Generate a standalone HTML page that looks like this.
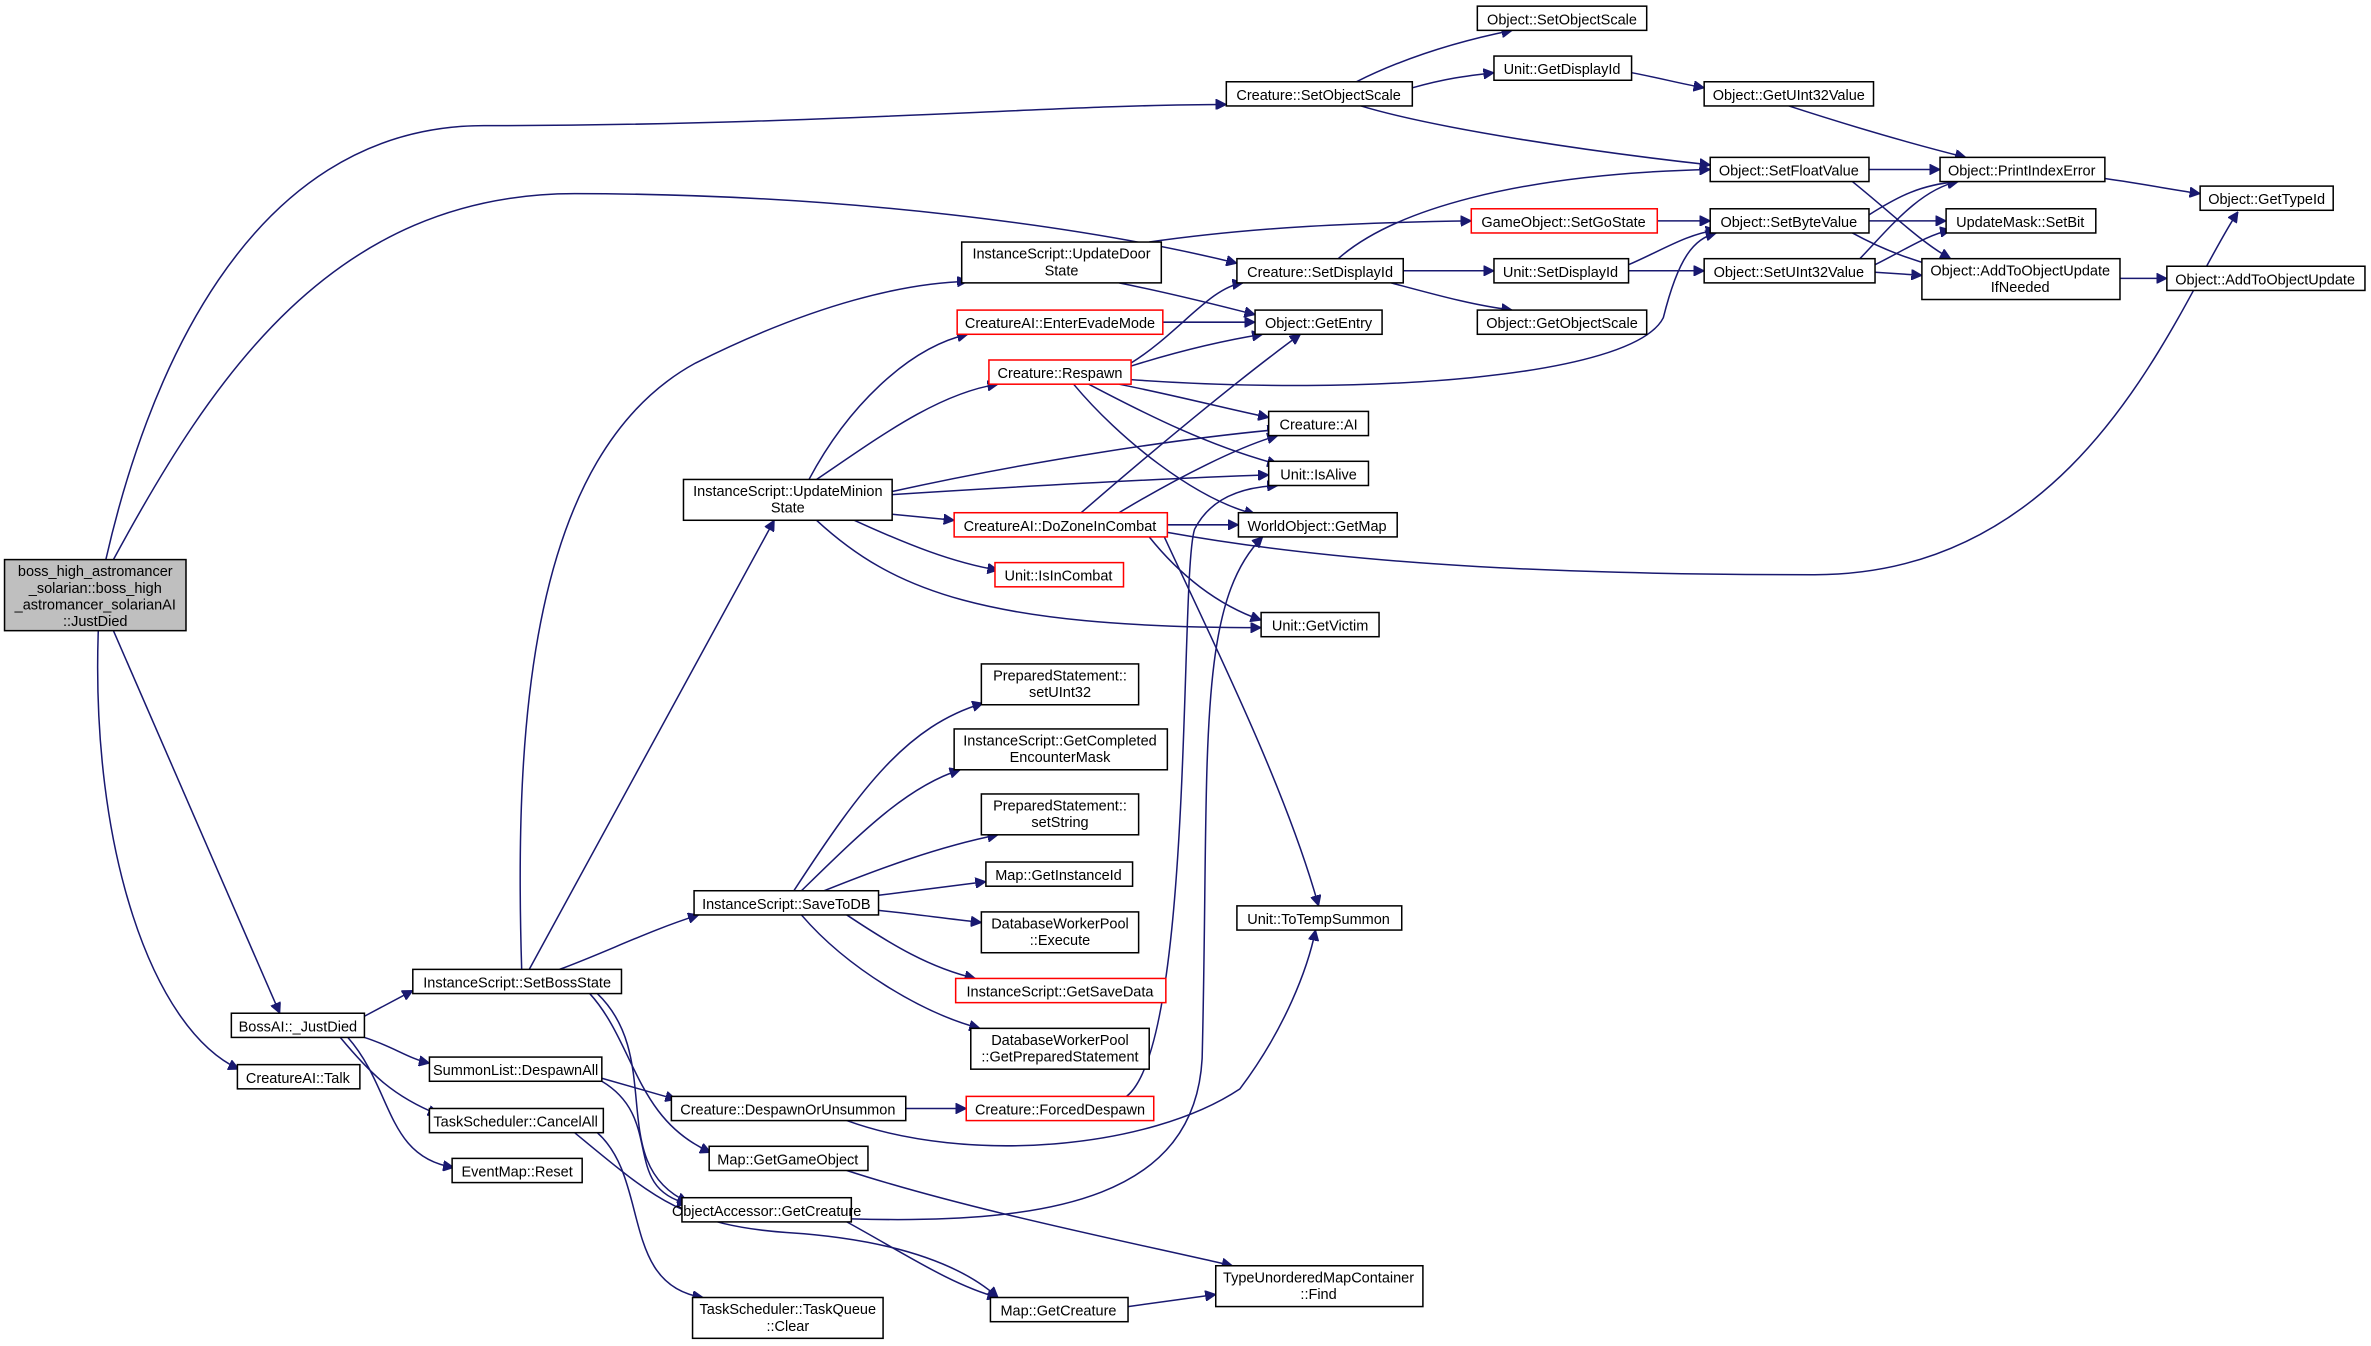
<!DOCTYPE html>
<html><head><meta charset="utf-8"><style>
html,body{margin:0;padding:0;background:#fff;}
svg{display:block;}
text{font-family:"Liberation Sans","DejaVu Sans",sans-serif;font-size:9.6px;fill:#000;text-anchor:middle;}
rect{fill:#fff;stroke:#000;stroke-width:1;}
rect.r{stroke:#ff0000;}
rect.g{fill:#bfbfbf;}
path{fill:none;stroke:#191970;stroke-width:1;marker-end:url(#a);}
</style></head><body>
<svg width="2371" height="1346" viewBox="0 0 1568 890" xmlns="http://www.w3.org/2000/svg">
<defs><marker id="a" viewBox="0 0 10 10" refX="10" refY="5" markerWidth="7" markerHeight="7" orient="auto" markerUnits="userSpaceOnUse"><path d="M0,0 L10,5 L0,10 z" style="fill:#191970;stroke:#191970;marker-end:none"/></marker></defs>

<!-- edges -->
<path d="M70,370 C95,260 160,83 320,83 C540,83 700,69 811,69"/>
<path d="M75,370 C140,250 220,128 380,128 C560,128 720,150 818,174"/>
<path d="M75,417 L185,670"/>
<path d="M65,417 C60,560 100,680 158,707"/>
<path d="M897,54 C925,40 960,28 1000,20"/>
<path d="M934,58 C955,52 970,50 988,48"/>
<path d="M900,70 C950,85 1050,100 1131,109"/>
<path d="M1079,48 C1100,52 1110,55 1127,58"/>
<path d="M1183,70 C1220,82 1260,94 1300,104"/>
<path d="M1236,112 L1283,112"/>
<path d="M1225,120 C1250,140 1270,160 1290,171"/>
<path d="M1392,118 C1420,122 1440,126 1455,128"/>
<path d="M1096,146 L1131,146"/>
<path d="M1236,142 C1255,130 1270,122 1295,120"/>
<path d="M1236,146 L1287,146"/>
<path d="M1225,154 C1245,165 1265,172 1280,176"/>
<path d="M1230,171 C1250,150 1270,125 1295,120"/>
<path d="M1240,175 C1260,165 1275,155 1290,152"/>
<path d="M1240,180 L1271,182"/>
<path d="M1402,184 L1433,184"/>
<path d="M760,160 C830,150 900,147 973,146"/>
<path d="M740,187 C780,195 810,203 830,208"/>
<path d="M885,171 C920,140 1000,115 1131,112"/>
<path d="M928,179 L988,179"/>
<path d="M920,187 C950,195 975,202 1000,205"/>
<path d="M1077,175 C1100,165 1115,155 1135,152"/>
<path d="M1077,179 L1127,179"/>
<path d="M769,213 L830,213"/>
<path d="M748,240 C780,220 800,190 822,187"/>
<path d="M748,242 C780,232 810,225 835,221"/>
<path d="M748,251 C900,262 1080,250 1100,210 C1110,170 1120,158 1135,154"/>
<path d="M740,254 C780,262 810,270 839,276"/>
<path d="M720,254 C760,275 800,295 845,307"/>
<path d="M710,254 C740,290 790,330 830,340"/>
<path d="M535,317 C560,270 600,230 640,221"/>
<path d="M540,317 C580,290 620,260 660,254"/>
<path d="M590,325 C680,305 780,290 845,284"/>
<path d="M590,327 C700,320 780,316 839,314"/>
<path d="M590,340 L631,344"/>
<path d="M565,344 C600,360 630,372 660,377"/>
<path d="M540,344 C590,390 650,415 834,415"/>
<path d="M715,339 C760,300 820,250 860,221"/>
<path d="M740,339 C780,315 820,295 845,288"/>
<path d="M772,347 L819,347"/>
<path d="M760,355 C780,380 805,400 834,410"/>
<path d="M770,355 C800,420 850,520 872,599"/>
<path d="M772,352 C900,375 1050,380 1200,380 C1380,380 1440,200 1480,140"/>
<path d="M525,589 C570,520 600,480 650,465"/>
<path d="M530,589 C570,550 600,520 635,509"/>
<path d="M545,589 C580,575 620,560 660,552"/>
<path d="M581,592 L652,583"/>
<path d="M581,602 C610,605 630,608 649,610"/>
<path d="M560,605 C590,625 615,640 645,647"/>
<path d="M530,605 C560,640 610,670 648,680"/>
<path d="M345,641 C340,480 350,300 460,240 C540,200 600,187 640,186"/>
<path d="M350,641 L512,344"/>
<path d="M370,641 C400,630 430,615 462,605"/>
<path d="M390,657 C420,690 420,740 470,762"/>
<path d="M395,657 C440,700 400,770 455,795"/>
<path d="M241,672 L273,655"/>
<path d="M241,686 C260,692 270,700 284,703"/>
<path d="M225,686 C245,710 260,725 290,737"/>
<path d="M230,686 C260,720 255,765 300,772"/>
<path d="M398,713 C415,718 430,722 447,727"/>
<path d="M398,715 C440,740 410,785 455,796"/>
<path d="M599,733 L639,733"/>
<path d="M560,741 C640,770 760,760 820,720 C850,680 865,640 870,615"/>
<path d="M745,725 C790,690 780,380 790,350 C800,330 820,322 845,321"/>
<path d="M395,749 C430,780 410,850 465,858"/>
<path d="M380,749 C430,790 450,810 520,815 C600,820 640,840 660,858"/>
<path d="M560,774 C640,800 750,822 815,837"/>
<path d="M563,806 C700,810 790,790 795,700 C800,500 790,400 835,355"/>
<path d="M560,808 C600,830 630,850 660,858"/>
<path d="M746,864 L804,856"/>

<!-- nodes -->
<rect class="g" x="3" y="370" width="120" height="47"/>
<text x="63" y="381">boss_high_astromancer</text>
<text x="63" y="392">_solarian::boss_high</text>
<text x="63" y="403">_astromancer_solarianAI</text>
<text x="63" y="414">::JustDied</text>

<rect x="811" y="54" width="123" height="16"/><text x="872" y="66">Creature::SetObjectScale</text>
<rect x="977" y="4" width="112" height="16"/><text x="1033" y="16">Object::SetObjectScale</text>
<rect x="988" y="37" width="91" height="16"/><text x="1033" y="49">Unit::GetDisplayId</text>
<rect x="1127" y="54" width="112" height="16"/><text x="1183" y="66">Object::GetUInt32Value</text>
<rect x="1131" y="104" width="105" height="16"/><text x="1183" y="116">Object::SetFloatValue</text>
<rect x="1283" y="104" width="109" height="16"/><text x="1337" y="116">Object::PrintIndexError</text>
<rect x="1455" y="123" width="88" height="16"/><text x="1499" y="135">Object::GetTypeId</text>
<rect class="r" x="973" y="138" width="123" height="16"/><text x="1034" y="150">GameObject::SetGoState</text>
<rect x="1131" y="138" width="105" height="16"/><text x="1183" y="150">Object::SetByteValue</text>
<rect x="1287" y="138" width="99" height="16"/><text x="1336" y="150">UpdateMask::SetBit</text>
<rect x="636" y="160" width="132" height="27"/><text x="702" y="171">InstanceScript::UpdateDoor</text><text x="702" y="182">State</text>
<rect x="818" y="171" width="110" height="16"/><text x="873" y="183">Creature::SetDisplayId</text>
<rect x="988" y="171" width="89" height="16"/><text x="1032" y="183">Unit::SetDisplayId</text>
<rect x="1127" y="171" width="113" height="16"/><text x="1183" y="183">Object::SetUInt32Value</text>
<rect x="1271" y="171" width="131" height="27"/><text x="1336" y="182">Object::AddToObjectUpdate</text><text x="1336" y="193">IfNeeded</text>
<rect x="1433" y="176" width="131" height="16"/><text x="1498" y="188">Object::AddToObjectUpdate</text>
<rect class="r" x="633" y="205" width="136" height="16"/><text x="701" y="217">CreatureAI::EnterEvadeMode</text>
<rect x="830" y="205" width="84" height="16"/><text x="872" y="217">Object::GetEntry</text>
<rect x="977" y="205" width="112" height="16"/><text x="1033" y="217">Object::GetObjectScale</text>
<rect class="r" x="654" y="238" width="94" height="16"/><text x="701" y="250">Creature::Respawn</text>
<rect x="839" y="272" width="66" height="16"/><text x="872" y="284">Creature::AI</text>
<rect x="839" y="305" width="66" height="16"/><text x="872" y="317">Unit::IsAlive</text>
<rect x="452" y="317" width="138" height="27"/><text x="521" y="328">InstanceScript::UpdateMinion</text><text x="521" y="339">State</text>
<rect class="r" x="631" y="339" width="141" height="16"/><text x="701" y="351">CreatureAI::DoZoneInCombat</text>
<rect x="819" y="339" width="105" height="16"/><text x="871" y="351">WorldObject::GetMap</text>
<rect class="r" x="658" y="372" width="85" height="16"/><text x="700" y="384">Unit::IsInCombat</text>
<rect x="834" y="405" width="78" height="16"/><text x="873" y="417">Unit::GetVictim</text>
<rect x="649" y="439" width="104" height="27"/><text x="701" y="450">PreparedStatement::</text><text x="701" y="461">setUInt32</text>
<rect x="631" y="482" width="141" height="27"/><text x="701" y="493">InstanceScript::GetCompleted</text><text x="701" y="504">EncounterMask</text>
<rect x="649" y="525" width="104" height="27"/><text x="701" y="536">PreparedStatement::</text><text x="701" y="547">setString</text>
<rect x="652" y="570" width="97" height="16"/><text x="700" y="582">Map::GetInstanceId</text>
<rect x="459" y="589" width="122" height="16"/><text x="520" y="601">InstanceScript::SaveToDB</text>
<rect x="818" y="599" width="109" height="16"/><text x="872" y="611">Unit::ToTempSummon</text>
<rect x="649" y="603" width="104" height="27"/><text x="701" y="614">DatabaseWorkerPool</text><text x="701" y="625">::Execute</text>
<rect class="r" x="632" y="647" width="139" height="16"/><text x="701" y="659">InstanceScript::GetSaveData</text>
<rect x="273" y="641" width="138" height="16"/><text x="342" y="653">InstanceScript::SetBossState</text>
<rect x="153" y="670" width="88" height="16"/><text x="197" y="682">BossAI::_JustDied</text>
<rect x="157" y="704" width="81" height="16"/><text x="197" y="716">CreatureAI::Talk</text>
<rect x="642" y="680" width="118" height="27"/><text x="701" y="691">DatabaseWorkerPool</text><text x="701" y="702">::GetPreparedStatement</text>
<rect x="284" y="699" width="114" height="16"/><text x="341" y="711">SummonList::DespawnAll</text>
<rect x="444" y="725" width="155" height="16"/><text x="521" y="737">Creature::DespawnOrUnsummon</text>
<rect class="r" x="639" y="725" width="124" height="16"/><text x="701" y="737">Creature::ForcedDespawn</text>
<rect x="284" y="733" width="115" height="16"/><text x="341" y="745">TaskScheduler::CancelAll</text>
<rect x="469" y="758" width="105" height="16"/><text x="521" y="770">Map::GetGameObject</text>
<rect x="299" y="766" width="86" height="16"/><text x="342" y="778">EventMap::Reset</text>
<rect x="451" y="792" width="112" height="16"/><text x="507" y="804">ObjectAccessor::GetCreature</text>
<rect x="804" y="837" width="137" height="27"/><text x="872" y="848">TypeUnorderedMapContainer</text><text x="872" y="859">::Find</text>
<rect x="655" y="858" width="91" height="16"/><text x="700" y="870">Map::GetCreature</text>
<rect x="458" y="858" width="126" height="27"/><text x="521" y="869">TaskScheduler::TaskQueue</text><text x="521" y="880">::Clear</text>
</svg>
</body></html>
